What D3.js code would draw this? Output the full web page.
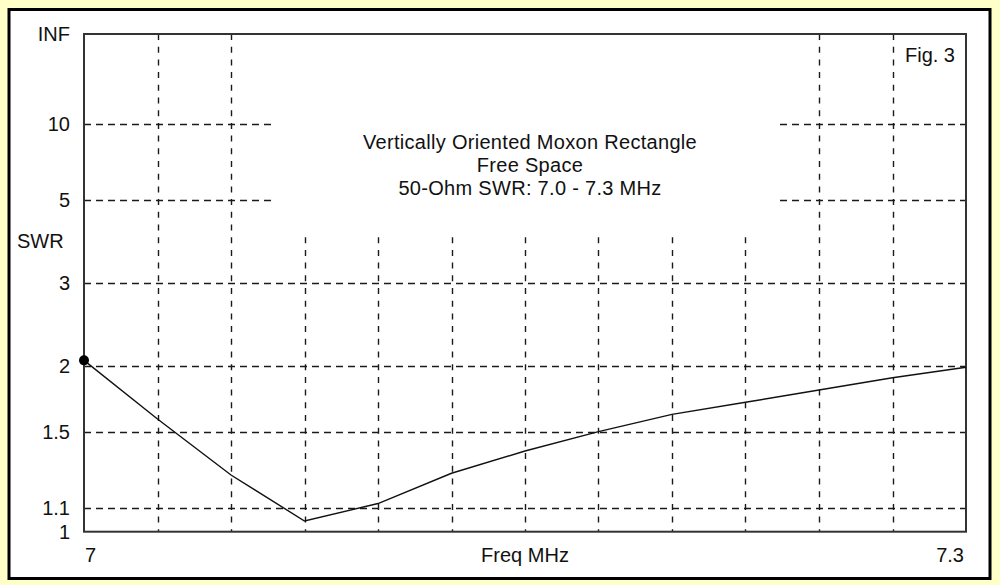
<!DOCTYPE html>
<html>
<head>
<meta charset="utf-8">
<script src="https://cdn.jsdelivr.net/npm/d3@7"></script>
<style>
  html, body { margin: 0; padding: 0; background: #FFFFC8; }
  svg { display: block; }
  text { font-family: "Liberation Sans", Arial, sans-serif; font-size: 20px; fill: #111; }
</style>
</head>
<body>
<svg id="chart" width="1000" height="585"></svg>
<script>
// ---- data ----
const freqs = [7.000, 7.025, 7.050, 7.075, 7.100, 7.125, 7.150, 7.175, 7.200, 7.225, 7.250, 7.275, 7.300];
const swrValues = [2.05, 1.585, 1.257, 1.044, 1.120, 1.266, 1.387, 1.503, 1.617, 1.703, 1.796, 1.896, 1.987];
const yTickValues = [1, 1.1, 1.5, 2, 3, 5, 10, Infinity];
const yTickLabels = ["1", "1.1", "1.5", "2", "3", "5", "10", "INF"];
const xGridValues = [7.025, 7.050, 7.075, 7.100, 7.125, 7.150, 7.175, 7.200, 7.225, 7.250, 7.275];
const xTickLabels = ["7", "7.3"];
const titleLines = ["Vertically Oriented Moxon Rectangle", "Free Space", "50-Ohm SWR: 7.0 - 7.3 MHz"];

// ---- layout ----
const svg = d3.select("#chart");
const L = 84, R = 966, T = 34, B = 531.7;

const x = d3.scaleLinear().domain([7.0, 7.3]).range([L, R]);
const rho = d3.scaleLinear().domain([0, 1]).range([B, T]);
const toRho = s => (s === Infinity ? 1 : (s - 1) / (s + 1));
const y = s => rho(toRho(s));

// outer frame
svg.append("rect").attr("x", 0).attr("y", 0).attr("width", 1000).attr("height", 585).attr("fill", "#FFFFC8");
svg.append("rect").attr("x", 9).attr("y", 9.5).attr("width", 981).attr("height", 569)
  .attr("fill", "#ffffff").attr("stroke", "#000").attr("stroke-width", 3);

// horizontal grid
const hGrid = yTickValues.filter(v => v !== 1 && v !== Infinity);
svg.append("g").selectAll("line").data(hGrid).join("line")
  .attr("x1", L).attr("x2", R)
  .attr("y1", d => Math.round(y(d)) + 0.5).attr("y2", d => Math.round(y(d)) + 0.5)
  .attr("stroke", "#1a1a1a").attr("stroke-width", 1.4).attr("stroke-dasharray", "7,5");

// vertical grid
svg.append("g").selectAll("line").data(xGridValues).join("line")
  .attr("x1", d => Math.round(x(d)) + 0.5).attr("x2", d => Math.round(x(d)) + 0.5)
  .attr("y1", T).attr("y2", B)
  .attr("stroke", "#1a1a1a").attr("stroke-width", 1.4).attr("stroke-dasharray", "6,6.7");

// white box behind title
svg.append("rect").attr("x", 272).attr("y", T + 1).attr("width", 508).attr("height", 233 - T)
  .attr("fill", "#ffffff");

// plot frame
svg.append("rect").attr("x", L).attr("y", T).attr("width", R - L).attr("height", B - T)
  .attr("fill", "none").attr("stroke", "#333").attr("stroke-width", 2);

// y tick labels
svg.append("g").selectAll("text").data(yTickValues).join("text")
  .attr("x", 70).attr("y", d => y(d) + 7)
  .attr("text-anchor", "end")
  .text((d, i) => yTickLabels[i]);

svg.append("text").attr("x", 17).attr("y", 248).text("SWR");

// x labels
svg.append("text").attr("x", 85).attr("y", 562).attr("text-anchor", "start").text(xTickLabels[0]);
svg.append("text").attr("x", 964).attr("y", 562).attr("text-anchor", "end").text(xTickLabels[1]);
svg.append("text").attr("x", 525).attr("y", 562).attr("text-anchor", "middle").text("Freq MHz");

// title
svg.append("g").selectAll("text").data(titleLines).join("text")
  .attr("x", 530).attr("y", (d, i) => 149 + i * 23)
  .attr("text-anchor", "middle")
  .style("letter-spacing", "0.3px")
  .text(d => d);

svg.append("text").attr("x", 955).attr("y", 62).attr("text-anchor", "end").text("Fig. 3");

// SWR curve
const pts = freqs.map((f, i) => [f, swrValues[i]]);
svg.append("path").datum(pts)
  .attr("d", d3.line().x(d => x(d[0])).y(d => y(d[1])))
  .attr("fill", "none").attr("stroke", "#111").attr("stroke-width", 1.4);

// marker at start
svg.append("circle").attr("cx", x(freqs[0])).attr("cy", y(swrValues[0])).attr("r", 5).attr("fill", "#000");
</script>
</body>
</html>
